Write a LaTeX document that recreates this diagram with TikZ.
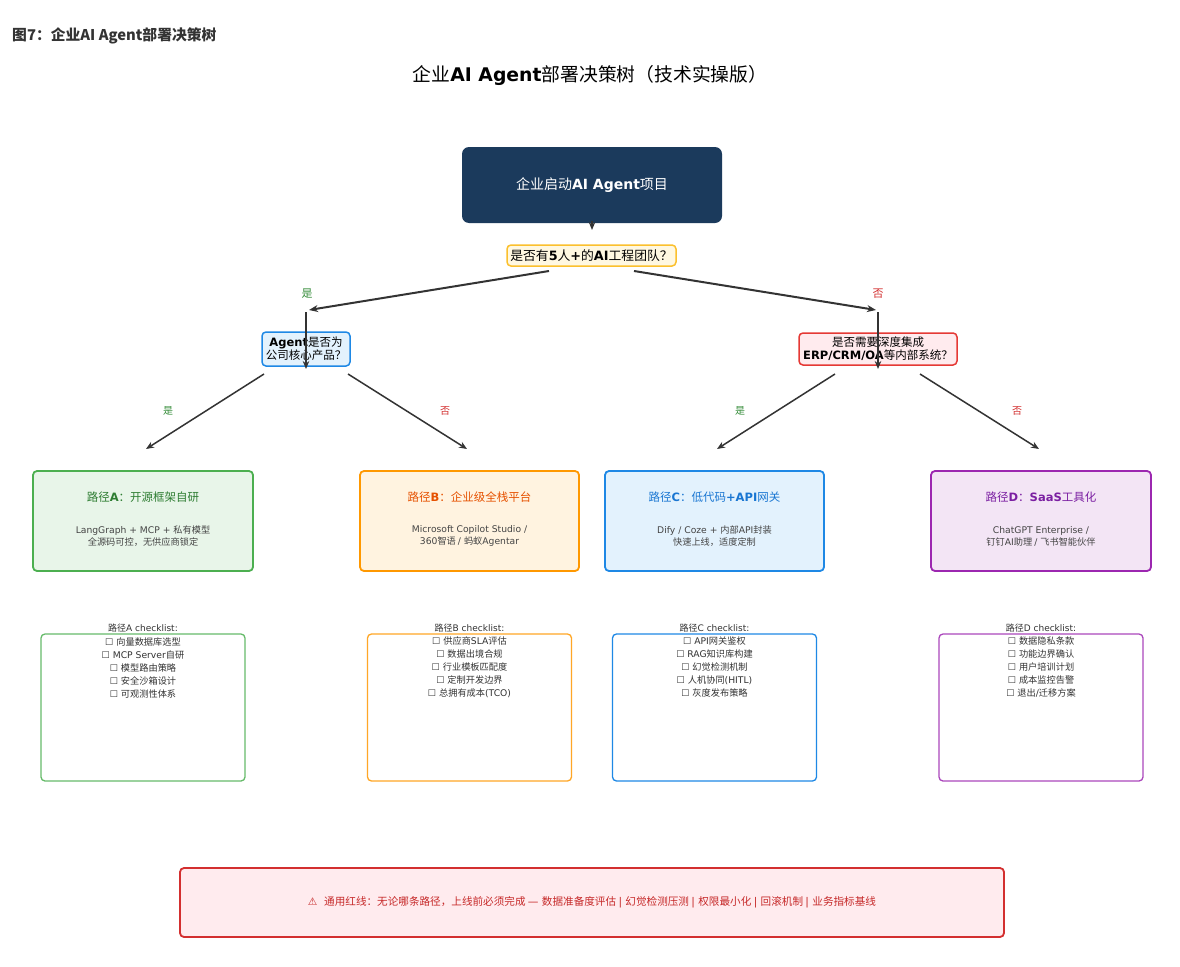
\documentclass[tikz,border=0pt]{standalone}
\usepackage{fontspec}
\setmainfont{DejaVu Sans}
\newfontfamily\cjkf{Noto Sans CJK SC}
\newfontfamily\latf{DejaVu Sans}
\usetikzlibrary{arrows.meta}
\newXeTeXintercharclass\CJKcls
\newcount\mycnt
\newcommand\setcjkrange[2]{\mycnt=#1\relax
  \loop\XeTeXcharclass\mycnt=\CJKcls\relax
  \ifnum\mycnt<#2\relax\advance\mycnt by 1\relax\repeat}
\setcjkrange{"2E80}{"9FFF}
\setcjkrange{"FF00}{"FFEF}
\XeTeXinterchartoks 0 \CJKcls = {\cjkf}
\XeTeXinterchartoks 4095 \CJKcls = {\cjkf}
\XeTeXinterchartoks \CJKcls 0 = {\latf}
\XeTeXinterchartoks 4095 0 = {\latf}
\XeTeXinterchartokenstate=1

\definecolor{cdark}{HTML}{333333}
\definecolor{cbody}{HTML}{444444}
\definecolor{navy}{HTML}{1B3A5C}
\definecolor{qyfill}{HTML}{FFF8E1}\definecolor{qydraw}{HTML}{FBC02D}
\definecolor{bfill}{HTML}{E3F2FD}\definecolor{bdraw}{HTML}{1E88E5}\definecolor{btext}{HTML}{1976D2}
\definecolor{rfill}{HTML}{FFEBEE}\definecolor{rdraw}{HTML}{E53935}
\definecolor{gfill}{HTML}{E8F5E9}\definecolor{gdraw}{HTML}{4CAF50}\definecolor{gtext}{HTML}{2E7D32}
\definecolor{ofill}{HTML}{FFF3E0}\definecolor{odraw}{HTML}{FF9800}\definecolor{otext}{HTML}{E65100}
\definecolor{pfill}{HTML}{F3E5F5}\definecolor{pdraw}{HTML}{9C27B0}\definecolor{ptext}{HTML}{7B1FA2}
\definecolor{gck}{HTML}{66BB6A}\definecolor{ock}{HTML}{FFA726}\definecolor{bck}{HTML}{1E88E5}\definecolor{pck}{HTML}{AB47BC}
\definecolor{yeslab}{HTML}{388E3C}\definecolor{nolab}{HTML}{D32F2F}
\definecolor{warnfill}{HTML}{FFEBEE}\definecolor{warndraw}{HTML}{D32F2F}\definecolor{warntext}{HTML}{C62828}

\tikzset{
  arrA/.style={draw=cdark, line width=2pt, -{Stealth[length=9pt,width=7pt]}},
  arrB/.style={draw=cdark, line width=1.5pt, -{Stealth[length=8pt,width=6.5pt]}},
  qbox/.style={rounded corners=4pt, line width=1.5pt, inner sep=0pt, align=center, font=\fontsize{11.5}{13}\selectfont},
  pathbox/.style={rounded corners=4pt, line width=1.8pt, inner sep=0pt},
  ckbox/.style={rounded corners=4pt, line width=1.3pt, fill=white, inner sep=0pt, minimum width=204pt, minimum height=147pt},
  ptitle/.style={font=\fontsize{11.5}{13}\selectfont, inner sep=0pt},
  pbody/.style={font=\fontsize{9.2}{12}\selectfont, text=cbody, align=center, inner sep=0pt},
  cklab/.style={font=\fontsize{9}{10}\selectfont, text=cdark, inner sep=0pt},
  ckitems/.style={font=\fontsize{9.2}{13}\selectfont, text=cdark, align=center, inner sep=0pt},
  yn/.style={font=\fontsize{11}{12}\selectfont, inner sep=0pt},
}

\begin{document}
\begin{tikzpicture}[x=1pt,y=-1pt]
\fill[white] (0,0) rectangle (1180,966);
\useasboundingbox (0,0) rectangle (1180,966);

% caption and title
\node[anchor=west, inner sep=0pt, text=cdark, font=\bfseries\fontsize{14.8}{16}\selectfont\cjkf] (cap) at (12,36)
  {\XeTeXinterchartokenstate=0 图7：企业AI Agent部署决策树};
\node[inner sep=0pt, font=\fontsize{18.8}{22}\selectfont] (title) at (590,75)
  {企业\textbf{AI Agent}部署决策树（技术实操版）};

% top box
\node[fill=navy, rounded corners=7pt, minimum width=260pt, minimum height=76pt, inner sep=0pt,
      text=white, font=\fontsize{14}{16}\selectfont] (start) at (592,185) {企业启动\textbf{AI Agent}项目};

% decision 1
\node[qbox, fill=qyfill, draw=qydraw, minimum width=169pt, minimum height=21pt, font=\fontsize{12.8}{14}\selectfont]
  (q1) at (591.5,255.5) {是否有\textbf{5}人\textbf{+}的\textbf{AI}工程团队？};

% decision 2
\node[qbox, fill=bfill, draw=bdraw, minimum width=88pt, minimum height=34pt] (q2l) at (306,349)
  {\textbf{Agent}是否为\\公司核心产品？};
\node[qbox, fill=rfill, draw=rdraw, minimum width=158pt, minimum height=32pt] (q2r) at (878,349)
  {是否需要深度集成\\\textbf{ERP/CRM/OA}等内部系统？};

% path boxes
\node[pathbox, fill=gfill, draw=gdraw, minimum width=220pt, minimum height=100pt] (pa) at (143,521) {};
\node[pathbox, fill=ofill, draw=odraw, minimum width=219pt, minimum height=100pt] (pb) at (469.5,521) {};
\node[pathbox, fill=bfill, draw=bdraw, minimum width=219pt, minimum height=100pt] (pc) at (714.5,521) {};
\node[pathbox, fill=pfill, draw=pdraw, minimum width=220pt, minimum height=100pt] (pd) at (1041,521) {};

\node[ptitle, text=gtext] (pat) at (143,497) {路径\textbf{A}：开源框架自研};
\node[ptitle, text=otext] (pbt) at (469.5,497) {路径\textbf{B}：企业级全栈平台};
\node[ptitle, text=btext] (pct) at (714.5,497) {路径\textbf{C}：低代码\textbf{+API}网关};
\node[ptitle, text=ptext] (pdt) at (1041,497) {路径\textbf{D}：\textbf{SaaS}工具化};

\node[pbody] (pab) at (143,536) {LangGraph + MCP + 私有模型\\全源码可控，无供应商锁定};
\node[pbody] (pbb) at (469.5,536) {Microsoft Copilot Studio /\\360智语 / 蚂蚁Agentar};
\node[pbody] (pcb) at (714.5,536) {Dify / Coze + 内部API封装\\快速上线，适度定制};
\node[pbody] (pdb) at (1041,536) {ChatGPT Enterprise /\\钉钉AI助理 / 飞书智能伙伴};

% checklists
\node[ckbox, draw=gck] (ca) at (143,707.5) {};
\node[ckbox, draw=ock] (cb) at (469.5,707.5) {};
\node[ckbox, draw=bck] (cc) at (714.5,707.5) {};
\node[ckbox, draw=pck] (cd) at (1041,707.5) {};

\node[cklab] (cal) at (143,628) {路径A checklist:};
\node[cklab] (cbl) at (469.5,628) {路径B checklist:};
\node[cklab] (ccl) at (714.5,628) {路径C checklist:};
\node[cklab] (cdl) at (1041,628) {路径D checklist:};

\node[ckitems] (cai) at (143,667.5) {☐ 向量数据库选型\\☐ MCP Server自研\\☐ 模型路由策略\\☐ 安全沙箱设计\\☐ 可观测性体系};
\node[ckitems] (cbi) at (469.5,667.5) {☐ 供应商SLA评估\\☐ 数据出境合规\\☐ 行业模板匹配度\\☐ 定制开发边界\\☐ 总拥有成本(TCO)};
\node[ckitems] (cci) at (714.5,667.5) {☐ API网关鉴权\\☐ RAG知识库构建\\☐ 幻觉检测机制\\☐ 人机协同(HITL)\\☐ 灰度发布策略};
\node[ckitems] (cdi) at (1041,667.5) {☐ 数据隐私条款\\☐ 功能边界确认\\☐ 用户培训计划\\☐ 成本监控告警\\☐ 退出/迁移方案};

% bottom warning
\node[fill=warnfill, draw=warndraw, line width=1.8pt, rounded corners=4pt, minimum width=824pt, minimum height=69pt,
      inner sep=0pt, text=warntext, font=\fontsize{10.6}{12}\selectfont] (warn) at (592,902.5)
  {⚠\ \ 通用红线：无论哪条路径，上线前必须完成 — 数据准备度评估 | 幻觉检测压测 | 权限最小化 | 回滚机制 | 业务指标基线};

% connector end points
\coordinate (s0) at (592,221);
\coordinate (s1) at (592,230);
\coordinate (q1a) at (549,271);
\coordinate (q1b) at (634,271);
\coordinate (yl) at (309,310);
\coordinate (nr) at (876,310);
\coordinate (vl0) at (306,312);
\coordinate (vl1) at (306,369);
\coordinate (vr0) at (878,312);
\coordinate (vr1) at (878,369);
\coordinate (la1) at (264,374); \coordinate (la2) at (146,449);
\coordinate (lb1) at (348,374); \coordinate (lb2) at (467,449);
\coordinate (rc1) at (835,374); \coordinate (rc2) at (717,449);
\coordinate (rd1) at (920,374); \coordinate (rd2) at (1039,449);

% connectors
\draw[arrB] (s0) -- (s1);
\draw[arrA] (q1a) -- (yl);
\draw[arrA] (q1b) -- (nr);
\draw[arrB] (vl0) -- (vl1);
\draw[arrB] (vr0) -- (vr1);
\draw[arrB] (la1) -- (la2);
\draw[arrB] (lb1) -- (lb2);
\draw[arrB] (rc1) -- (rc2);
\draw[arrB] (rd1) -- (rd2);

% yes / no labels
\node[yn, text=yeslab] (y1) at (307,294) {是};
\node[yn, text=nolab] (n1) at (878,294) {否};
\node[yn, text=yeslab, font=\fontsize{10}{12}\selectfont] (y2) at (168,411) {是};
\node[yn, text=nolab, font=\fontsize{10}{12}\selectfont] (n2) at (445,411) {否};
\node[yn, text=yeslab, font=\fontsize{10}{12}\selectfont] (y3) at (740,411) {是};
\node[yn, text=nolab, font=\fontsize{10}{12}\selectfont] (n3) at (1017,411) {否};
\end{tikzpicture}
\end{document}
